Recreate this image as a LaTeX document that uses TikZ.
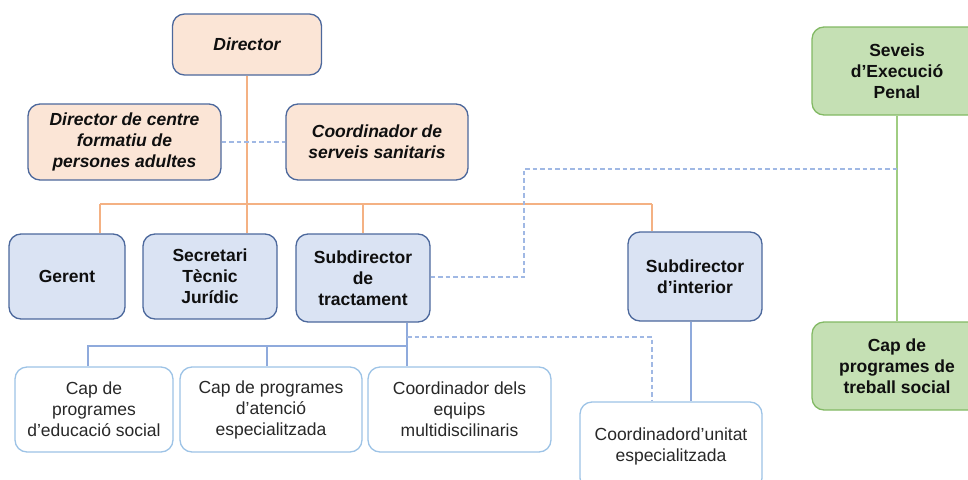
\documentclass[tikz,border=0pt]{standalone}
\usepackage{fontspec}
\setmainfont{Liberation Sans}
\definecolor{ofill}{RGB}{251,229,214}
\definecolor{bfill}{RGB}{218,227,243}
\definecolor{bdraw}{RGB}{76,104,156}
\definecolor{wdraw}{RGB}{157,195,230}
\definecolor{gfill}{RGB}{197,224,180}
\definecolor{gdraw}{RGB}{130,185,100}
\definecolor{oline}{RGB}{244,177,131}
\definecolor{bline}{RGB}{143,170,220}
\definecolor{dline}{RGB}{160,184,228}
\definecolor{gline}{RGB}{160,205,130}
\definecolor{txt}{RGB}{15,15,15}
\tikzset{
  box/.style={rectangle, rounded corners=12pt, line width=1.3pt, align=center,
    inner sep=2pt, font=\fontsize{17.5}{21}\selectfont, text=txt},
  obox/.style={box, fill=ofill, draw=bdraw, font=\fontsize{17.5}{21}\selectfont\bfseries\itshape},
  bbox/.style={box, fill=bfill, draw=bdraw, font=\fontsize{17.5}{21}\selectfont\bfseries},
  gbox/.style={box, fill=gfill, draw=gdraw, font=\fontsize{17.5}{21}\selectfont\bfseries},
  wbox/.style={box, fill=white, draw=wdraw, text={rgb,255:red,40;green,40;blue,40}},
  orl/.style={draw=oline, line width=1.2pt},
  bll/.style={draw=bline, line width=1.2pt},
  dsl/.style={draw=dline, line width=1.1pt, dash pattern=on 4.5pt off 3pt},
  grl/.style={draw=gline, line width=1.2pt}
}
\begin{document}
\begin{tikzpicture}[x=1pt,y=-1pt]
\useasboundingbox (0,0) rectangle (968,479);
% boxes
\node[obox, minimum width=149pt, minimum height=61pt] (dir) at (247,44.5) {Director};
\node[obox, minimum width=193pt, minimum height=76pt] (dcf) at (124.5,142) {Director de centre\\formatiu de\\persones adultes};
\node[obox, minimum width=182pt, minimum height=76pt] (css) at (377,142) {Coordinador de\\serveis sanitaris};
\node[gbox, minimum width=170pt, minimum height=88pt] (sep) at (897,71) {Seveis\\d’Execució\\Penal};
\node[gbox, minimum width=170pt, minimum height=88pt] (cts) at (897,366) {Cap de\\programes de\\treball social};
\node[bbox, minimum width=116pt, minimum height=85pt] (ger) at (67,276.5) {Gerent};
\node[bbox, minimum width=134pt, minimum height=85pt] (sec) at (210,276.5) {Secretari\\Tècnic\\Jurídic};
\node[bbox, minimum width=134pt, minimum height=88pt] (sdt) at (363,278) {Subdirector\\de\\tractament};
\node[bbox, minimum width=134pt, minimum height=89pt] (sdi) at (695,276.5) {Subdirector\\d’interior};
\node[wbox, minimum width=158pt, minimum height=85pt] (ces) at (94,409.5) {Cap de\\programes\\d’educació social};
\node[wbox, minimum width=182pt, minimum height=85pt] (cat) at (271,409.5) {Cap de programes\\d’atenció\\especialitzada};
\node[wbox, minimum width=183pt, minimum height=85pt] (ceq) at (459.5,409.5) {Coordinador dels\\equips\\multidiscilinaris};
\node[wbox, minimum width=182pt, minimum height=88pt] (cdu) at (671,446) {Coordinadord’unitat\\especialitzada};
% coordinates
\coordinate (busL) at (100,204);
\coordinate (busR) at (652,204);
\coordinate (tb) at (407,346);
\coordinate (tbL) at (88,346);
\coordinate (tbM) at (267,346);
\coordinate (dk) at (524,277);
\coordinate (dk2) at (524,169);
\coordinate (gj) at (897,169);
\coordinate (dd) at (407,337);
\coordinate (dd2) at (652,337);
\coordinate (si) at (691,321);
% orange connectors
\draw[orl] (busL) -- (busR);
\draw[orl] (busL) -- (busL |- ger.north);
\draw[orl] (dir.south) -- (dir.south |- sec.north);
\draw[orl] (sdt.north |- busL) -- (sdt.north);
\draw[orl] (busR) -- (busR |- sdi.north);
\draw[dsl] (dcf.east) -- (css.west);
% green
\draw[grl] (sep.south) -- (cts.north);
\draw[dsl] (sdt.east |- dk) -- (dk) -- (dk2) -- (gj);
% blue tree
\draw[bll] (tb |- sdt.south) -- (tb |- ceq.north);
\draw[bll] (tb) -- (tbL) -- (tbL |- ces.north);
\draw[bll] (tbM) -- (tbM |- cat.north);
\draw[dsl] (dd) -- (dd2) -- (dd2 |- cdu.north);
\draw[bll] (si |- sdi.south) -- (si |- cdu.north);
\end{tikzpicture}
\end{document}
